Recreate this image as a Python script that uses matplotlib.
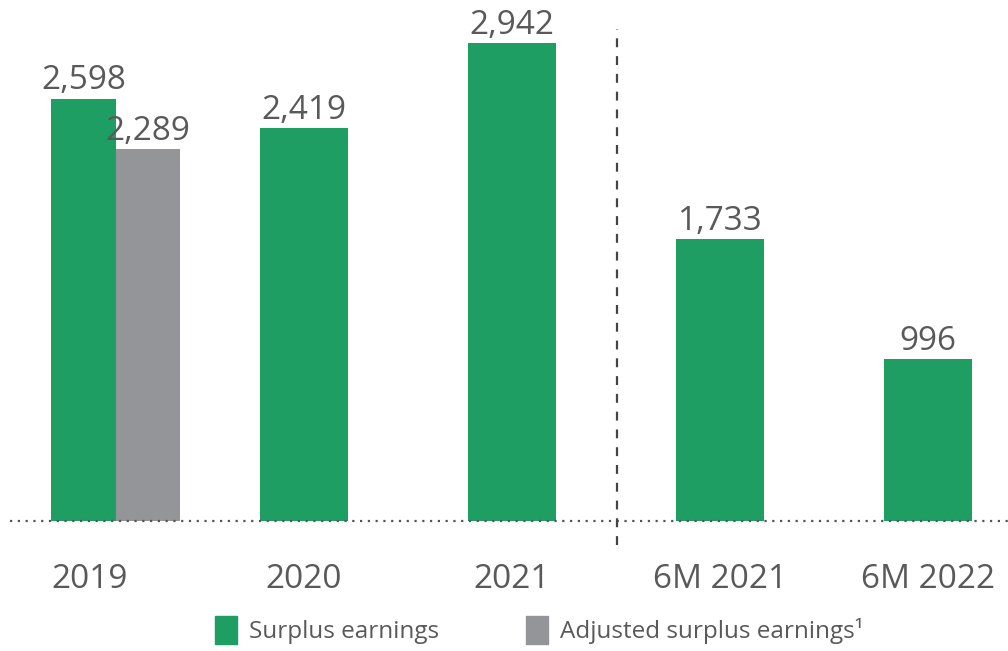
import matplotlib.pyplot as plt
from matplotlib.patches import Patch
import numpy as np

categories = ["2019", "2020", "2021", "6M 2021", "6M 2022"]
surplus = [2598, 2419, 2942, 1733, 996]
adjusted_2019 = 2289

green = "#1e9e62"
grey = "#939598"
txt = "#595959"

plt.rcParams['font.family'] = ['Open Sans', 'DejaVu Sans']

fig = plt.figure(figsize=(10.08, 6.51), dpi=100)
ax = fig.add_axes([0, 130 / 651, 1, 521 / 651])

x = np.arange(len(categories))
w = 0.31
# 2019 has two bars side by side, the rest one bar each
xs = x.astype(float).copy()
xs[0] = x[0] - 0.06
ax.bar(xs, surplus, width=[w, 0.42, 0.42, 0.42, 0.42], color=green, linewidth=0)
ax.bar(x[0] + 0.25, adjusted_2019, width=w, color=grey, linewidth=0)

for xi, v in zip(xs, surplus):
    ax.annotate(f"{v:,}", (xi, v), xytext=(0, 1), textcoords="offset points",
                ha="center", va="bottom", fontsize=24, color=txt)
ax.annotate(f"{adjusted_2019:,}", (x[0] + 0.25, adjusted_2019), xytext=(0, 1),
            textcoords="offset points", ha="center", va="bottom", fontsize=24, color=txt)

ax.set_xlim(-0.4615, 4.385)
ax.set_ylim(0, 3206)

# dotted baseline
ax.plot([-0.415, 4.385], [0, 0], color="#555555", linestyle=(0, (1, 2.5)), linewidth=1.6,
        clip_on=False)
# dashed separator between years and half-years
ax.plot([2.505, 2.505], [-150, 3030], color="#444444", linestyle=(0, (4, 4)), linewidth=1.6,
        clip_on=False)

ticks = x.astype(float).copy()
ticks[0] = x[0] - 0.03
ax.set_xticks(ticks)
ax.set_xticklabels(categories, fontsize=24, color=txt)
ax.tick_params(axis="x", length=0, pad=30)
ax.set_yticks([])
for s in ax.spines.values():
    s.set_visible(False)

handles = [Patch(color=green, label="Surplus earnings"),
           Patch(color=grey, label="Adjusted surplus earnings¹")]
leg = fig.legend(handles=handles, loc="center", bbox_to_anchor=(0.535, 0.032), ncol=2,
                 frameon=False, fontsize=17.5, handlelength=0.9, handleheight=1.4,
                 columnspacing=3.6, handletextpad=0.5)
for t in leg.get_texts():
    t.set_color(txt)

fig.savefig("out.png", dpi=100)
